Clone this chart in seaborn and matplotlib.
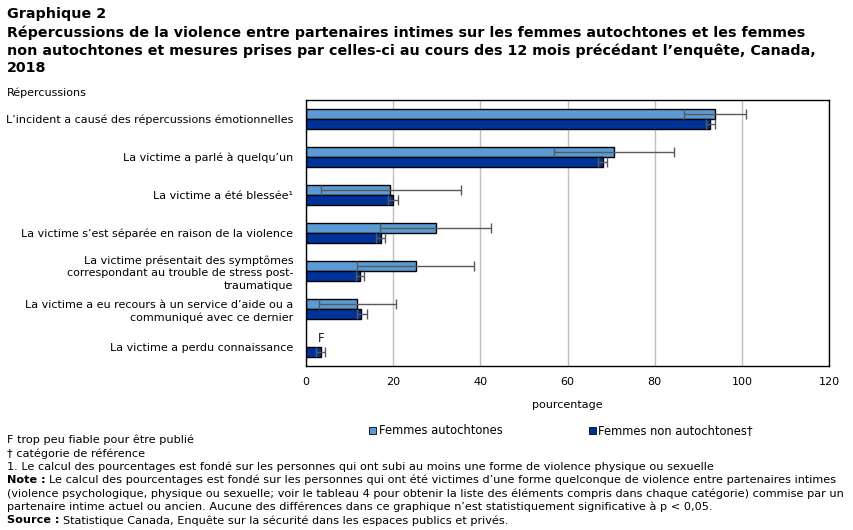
import matplotlib
matplotlib.use('Agg')
import matplotlib.pyplot as plt
import numpy as np
import pandas as pd
import seaborn as sns
from matplotlib.patches import Patch

# Données
categories = [
    "L’incident a causé des répercussions émotionnelles",
    "La victime a parlé à quelqu’un",
    "La victime a été blessée¹",
    "La victime s’est séparée en raison de la violence",
    "La victime présentait des symptômes\ncorrespondant au trouble de stress post-\ntraumatique",
    "La victime a eu recours à un service d’aide ou a\ncommuniqué avec ce dernier",
    "La victime a perdu connaissance",
]
groupes = ["Femmes autochtones", "Femmes non autochtones†"]
valeurs_aut = [93.9, 70.7, 19.3, 29.8, 25.2, 11.8, np.nan]
bas_aut = [86.8, 56.8, 3.4, 17.0, 11.6, 3.0, np.nan]
haut_aut = [100.9, 84.5, 35.5, 42.5, 38.6, 20.7, np.nan]
valeurs_non = [92.7, 68.2, 19.9, 17.3, 12.5, 12.7, 3.4]
bas_non = [91.8, 67.0, 18.9, 16.1, 11.4, 11.7, 2.3]
haut_non = [93.9, 69.1, 21.0, 18.2, 13.4, 13.9, 4.3]

couleurs = ["#5B9BD5", "#003399"]

df = pd.DataFrame({
    'categorie': categories * 2,
    'groupe': [groupes[0]] * 7 + [groupes[1]] * 7,
    'valeur': valeurs_aut + valeurs_non,
    'bas': bas_aut + bas_non,
    'haut': haut_aut + haut_non,
})

plt.rcParams['font.family'] = ['DejaVu Sans']
fig = plt.figure(figsize=(8.54, 5.30), dpi=100)
ax = fig.add_axes([306 / 854, 1 - 366 / 530, 523 / 854, 266 / 530])

sns.barplot(data=df, y='categorie', x='valeur', hue='groupe', order=categories,
            hue_order=groupes, palette=couleurs, saturation=1, orient='h', width=0.53,
            errorbar=None, edgecolor='black', linewidth=1, legend=False, ax=ax)

# Barres d'erreur (intervalles de confiance), placées sur les barres dessinées
for i, g in enumerate(groupes):
    sub = df[df['groupe'] == g].set_index('categorie').loc[categories]
    bars = ax.containers[i]
    # décalage de la barre par rapport au centre de la catégorie
    b0 = bars[0]
    decal = b0.get_y() + b0.get_height() / 2 - round(b0.get_y() + b0.get_height() / 2)
    for j, (_, row) in enumerate(sub.iterrows()):
        yc = j + decal
        if np.isnan(row['valeur']):
            # F : trop peu fiable
            ax.text(3.4, yc - 0.08, 'F', ha='center', va='center', fontsize=8.5, color='#1a1a1a')
            continue
        ax.errorbar(row['valeur'], yc,
                    xerr=[[row['valeur'] - row['bas']], [row['haut'] - row['valeur']]],
                    fmt='none', ecolor='#595959', elinewidth=1, capsize=3.5, capthick=1)

ax.set_xlim(0, 120)
ax.set_ylim(6.5, -0.5)
ax.set_xticks(np.arange(0, 121, 20))
ax.xaxis.grid(True, color='#BFBFBF', linewidth=1)
ax.set_axisbelow(True)
ax.tick_params(axis='x', length=0, labelsize=8, pad=8)
ax.tick_params(axis='y', length=0, labelsize=8, pad=9)
for lab in ax.get_yticklabels():
    lab.set_multialignment('right')
    lab.set_linespacing(1.3)
for s in ax.spines.values():
    s.set_color('black')
    s.set_linewidth(1)
ax.set_ylabel('')
ax.set_xlabel('pourcentage', fontsize=8, labelpad=9)

# Légende
handles = [Patch(facecolor=c, edgecolor='black', linewidth=0.6) for c in couleurs]
fig.legend(handles, groupes, loc='center', bbox_to_anchor=(561 / 854, 1 - 431 / 530),
           ncol=2, frameon=False, fontsize=8.3, handlelength=0.6, handleheight=0.6,
           handletextpad=0.2, columnspacing=7.5)

# Titre
fig.text(7 / 854, 1 - 14 / 530, 'Graphique 2', fontsize=10.3, fontweight='bold', va='center')
titre = ["Répercussions de la violence entre partenaires intimes sur les femmes autochtones et les femmes",
         "non autochtones et mesures prises par celles-ci au cours des 12 mois précédant l’enquête, Canada,",
         "2018"]
for k, t in enumerate(titre):
    fig.text(7 / 854, 1 - (33 + 17.5 * k) / 530, t, fontsize=10.3, fontweight='bold', va='center')
fig.text(7 / 854, 1 - 93 / 530, 'Répercussions', fontsize=8, va='center')

# Notes
notes = [
    ('', "F trop peu fiable pour être publié"),
    ('', "† catégorie de référence"),
    ('', "1. Le calcul des pourcentages est fondé sur les personnes qui ont subi au moins une forme de violence physique ou sexuelle"),
    ('Note : ', "Le calcul des pourcentages est fondé sur les personnes qui ont été victimes d’une forme quelconque de violence entre partenaires intimes"),
    ('', "(violence psychologique, physique ou sexuelle; voir le tableau 4 pour obtenir la liste des éléments compris dans chaque catégorie) commise par un"),
    ('', "partenaire intime actuel ou ancien. Aucune des différences dans ce graphique n’est statistiquement significative à p < 0,05."),
    ('Source : ', "Statistique Canada, Enquête sur la sécurité dans les espaces publics et privés."),
]
fig.canvas.draw()
renderer = fig.canvas.get_renderer()
for k, (gras, texte) in enumerate(notes):
    y = 1 - (440 + 13.4 * k) / 530
    x = 7 / 854
    if gras:
        tb = fig.text(x, y, gras, fontsize=8.1, fontweight='bold', va='center')
        bb = tb.get_window_extent(renderer)
        x = bb.x1 / fig.bbox.width
    fig.text(x, y, texte, fontsize=8.1, va='center')

fig.savefig('out.png', dpi=100)
